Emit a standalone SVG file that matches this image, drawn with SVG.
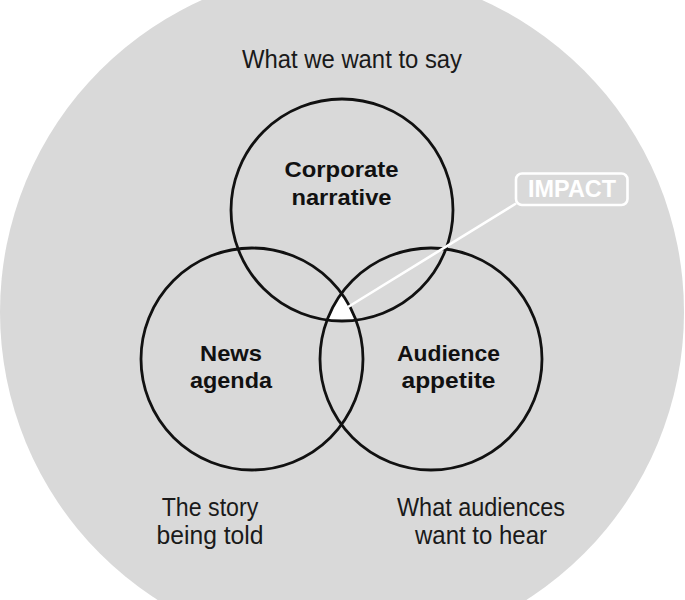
<svg xmlns="http://www.w3.org/2000/svg" width="685" height="600" viewBox="0 0 685 600">
<style>
.ring{fill:none;stroke:#111;stroke-width:2.8}
.bold{font-family:"Liberation Sans",Arial,sans-serif;font-weight:bold;font-size:22.5px;fill:#111;text-anchor:middle}
.note{font-family:"Liberation Sans",Arial,sans-serif;font-size:25px;fill:#1a1a1a;text-anchor:middle}
.white{stroke:#fff;stroke-width:2.6;fill:none}
</style>
<rect width="685" height="600" fill="#fff"/>
<circle id="outer" cx="342" cy="312" r="342" fill="#d9d9d9"/>
<text class="note" x="352" y="68.3" textLength="220" lengthAdjust="spacingAndGlyphs">What we want to say</text>
<text class="note" x="210" y="516" textLength="96.6" lengthAdjust="spacingAndGlyphs">The story</text>
<text class="note" x="210" y="544" textLength="107" lengthAdjust="spacingAndGlyphs">being told</text>
<text class="note" x="481" y="516" textLength="168" lengthAdjust="spacingAndGlyphs">What audiences</text>
<text class="note" x="481" y="544" textLength="132" lengthAdjust="spacingAndGlyphs">want to hear</text>
<path id="impact-zone" d="M341.5 293.3 A111 111 0 0 1 356 320.1 A111 111 0 0 1 327.1 320 A111 111 0 0 1 341.5 293.3 Z" fill="#fff"/>
<g id="corporate-narrative">
<circle class="ring" cx="342" cy="210" r="111"/>
<text class="bold" x="341.5" y="176.7" textLength="114" lengthAdjust="spacingAndGlyphs">Corporate</text>
<text class="bold" x="341.5" y="205" textLength="100" lengthAdjust="spacingAndGlyphs">narrative</text>
</g>
<g id="news-agenda">
<circle class="ring" cx="252" cy="359" r="111"/>
<text class="bold" x="231" y="360.7" textLength="62" lengthAdjust="spacingAndGlyphs">News</text>
<text class="bold" x="231" y="388.3" textLength="82" lengthAdjust="spacingAndGlyphs">agenda</text>
</g>
<g id="audience-appetite">
<circle class="ring" cx="431" cy="359" r="111"/>
<text class="bold" x="448.5" y="360.7" textLength="103" lengthAdjust="spacingAndGlyphs">Audience</text>
<text class="bold" x="448.5" y="388.3" textLength="94" lengthAdjust="spacingAndGlyphs">appetite</text>
</g>
<g id="connectors">
<line class="white" x1="348" y1="307" x2="516" y2="203.5"/>
</g>
<g id="impact">
<rect class="white" x="516" y="173.5" width="111.5" height="31.5" rx="6"/>
<text x="572" y="196.7" font-family="Liberation Sans, Arial, sans-serif" font-weight="bold" font-size="23" fill="#fff" text-anchor="middle" textLength="88" lengthAdjust="spacingAndGlyphs">IMPACT</text>
</g>
</svg>
